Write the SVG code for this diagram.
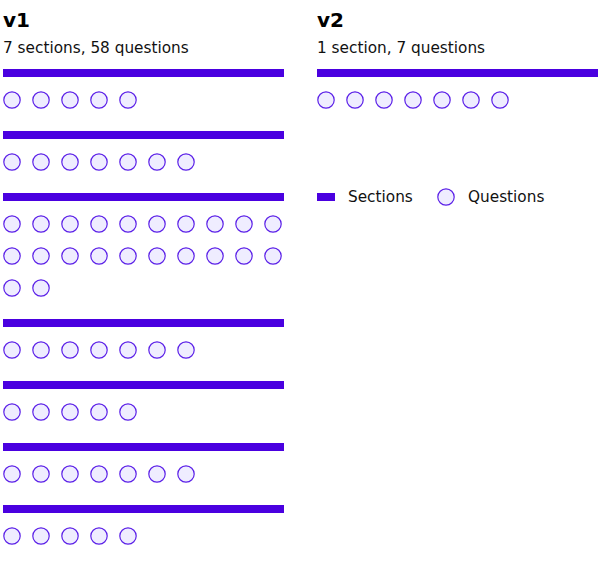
<svg xmlns="http://www.w3.org/2000/svg" width="600" height="561" viewBox="0 0 600 561">
<style>
.t{font-family:"DejaVu Sans","Noto Sans",sans-serif;font-weight:bold;font-size:20px;fill:#000}
.s{font-family:"DejaVu Sans","Noto Sans",sans-serif;font-size:15.3px;fill:#111}
.bar{fill:#4a00e0}
.q{fill:#efedff;stroke:#5b20e8;stroke-width:1.2}
</style>
<defs>
<circle id="c" r="8.2" class="q"/>
</defs>
<rect width="600" height="561" fill="#fff"/>
<g id="v1">
<text class="t" x="3" y="27">v1</text>
<text class="s" x="3" y="53">7 sections, 58 questions</text>
<g id="v1-s1">
<rect class="bar" x="3" y="69" width="281" height="8"/>
<use href="#c" x="12" y="100"/><use href="#c" x="41" y="100"/><use href="#c" x="70" y="100"/><use href="#c" x="99" y="100"/><use href="#c" x="128" y="100"/>
</g>
<g id="v1-s2">
<rect class="bar" x="3" y="131" width="281" height="8"/>
<use href="#c" x="12" y="162"/><use href="#c" x="41" y="162"/><use href="#c" x="70" y="162"/><use href="#c" x="99" y="162"/><use href="#c" x="128" y="162"/><use href="#c" x="157" y="162"/><use href="#c" x="186" y="162"/>
</g>
<g id="v1-s3">
<rect class="bar" x="3" y="193" width="281" height="8"/>
<use href="#c" x="12" y="224"/><use href="#c" x="41" y="224"/><use href="#c" x="70" y="224"/><use href="#c" x="99" y="224"/><use href="#c" x="128" y="224"/><use href="#c" x="157" y="224"/><use href="#c" x="186" y="224"/><use href="#c" x="215" y="224"/><use href="#c" x="244" y="224"/><use href="#c" x="273" y="224"/>
<use href="#c" x="12" y="256"/><use href="#c" x="41" y="256"/><use href="#c" x="70" y="256"/><use href="#c" x="99" y="256"/><use href="#c" x="128" y="256"/><use href="#c" x="157" y="256"/><use href="#c" x="186" y="256"/><use href="#c" x="215" y="256"/><use href="#c" x="244" y="256"/><use href="#c" x="273" y="256"/>
<use href="#c" x="12" y="288"/><use href="#c" x="41" y="288"/>
</g>
<g id="v1-s4">
<rect class="bar" x="3" y="319" width="281" height="8"/>
<use href="#c" x="12" y="350"/><use href="#c" x="41" y="350"/><use href="#c" x="70" y="350"/><use href="#c" x="99" y="350"/><use href="#c" x="128" y="350"/><use href="#c" x="157" y="350"/><use href="#c" x="186" y="350"/>
</g>
<g id="v1-s5">
<rect class="bar" x="3" y="381" width="281" height="8"/>
<use href="#c" x="12" y="412"/><use href="#c" x="41" y="412"/><use href="#c" x="70" y="412"/><use href="#c" x="99" y="412"/><use href="#c" x="128" y="412"/>
</g>
<g id="v1-s6">
<rect class="bar" x="3" y="443" width="281" height="8"/>
<use href="#c" x="12" y="474"/><use href="#c" x="41" y="474"/><use href="#c" x="70" y="474"/><use href="#c" x="99" y="474"/><use href="#c" x="128" y="474"/><use href="#c" x="157" y="474"/><use href="#c" x="186" y="474"/>
</g>
<g id="v1-s7">
<rect class="bar" x="3" y="505" width="281" height="8"/>
<use href="#c" x="12" y="536"/><use href="#c" x="41" y="536"/><use href="#c" x="70" y="536"/><use href="#c" x="99" y="536"/><use href="#c" x="128" y="536"/>
</g>
</g>
<g id="v2">
<text class="t" x="317" y="27">v2</text>
<text class="s" x="317" y="53">1 section, 7 questions</text>
<g id="v2-s1">
<rect class="bar" x="317" y="69" width="281" height="8"/>
<use href="#c" x="326" y="100"/><use href="#c" x="355" y="100"/><use href="#c" x="384" y="100"/><use href="#c" x="413" y="100"/><use href="#c" x="442" y="100"/><use href="#c" x="471" y="100"/><use href="#c" x="500" y="100"/>
</g>
</g>
<g id="legend">
<rect class="bar" x="317" y="193" width="18" height="8"/>
<text class="s" x="348" y="202">Sections</text>
<circle class="q" cx="446" cy="197" r="8.2"/>
<text class="s" x="468" y="202">Questions</text>
</g>
</svg>
